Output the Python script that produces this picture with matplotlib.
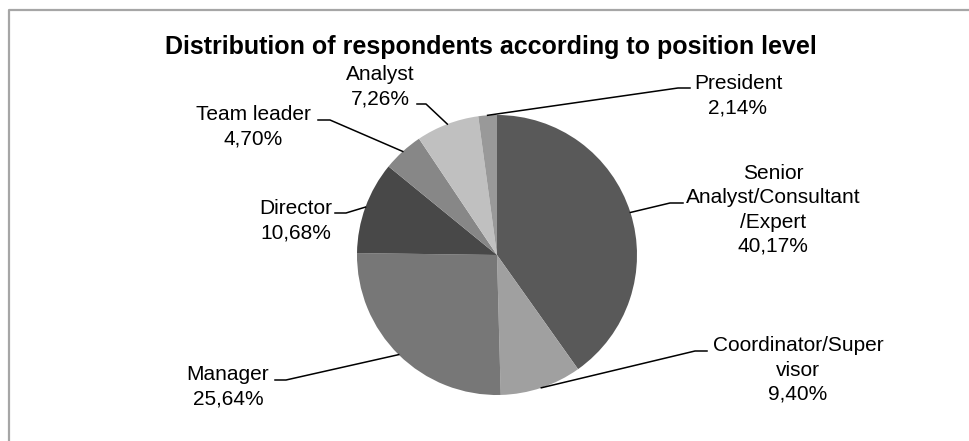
import numpy as np
import matplotlib.pyplot as plt

plt.rcParams['font.family'] = ['Liberation Sans', 'DejaVu Sans']

# Dane
categories = ['Senior\nAnalyst/Consultant\n/Expert', 'Coordinator/Super\nvisor', 'Manager',
              'Director', 'Team leader', 'Analyst', 'President']
shares = [40.17, 9.40, 25.64, 10.68, 4.70, 7.26, 2.14]
colors = ['#595959', '#a0a0a0', '#777777', '#484848', '#878787', '#c0c0c0', '#999999']

# Pozycje etykiet w pikselach (od gory): srodek tekstu, punkt zaczepienia, kolanko linii
label_pos = [(773, 210), (798, 370), (228, 387), (296, 221), (253, 127), (380, 87), (738, 96)]
attach = [(683, 203), (707, 351), (275, 380), (335, 213), (318, 120), (417, 104), (690, 88)]
elbow = [(670, 203), (695, 351), (286, 380), (346, 213), (330, 120), (426, 104), (678, 88)]

W, H = 970, 441
fig = plt.figure(figsize=(W / 100, H / 100), dpi=100)
ax = fig.add_axes([0, 0, 1, 1])

cx, cy, r = 497, H - 255, 140
wedges, _ = ax.pie(shares, colors=colors, startangle=90, counterclock=False,
                   center=(cx, cy), radius=r, frame=True,
                   wedgeprops=dict(linewidth=0))
ax.set_xlim(0, W)
ax.set_ylim(0, H)
ax.set_aspect('equal')
ax.axis('off')

# Etykiete + linije
for w, cat, val, (tx, ty), (ax_, ay), (ex, ey) in zip(wedges, categories, shares,
                                                     label_pos, attach, elbow):
    theta = np.deg2rad((w.theta1 + w.theta2) / 2)
    px, py = cx + r * np.cos(theta), cy + r * np.sin(theta)
    ax.plot([px, ex, ax_], [py, H - ey, H - ay], color='black', lw=1.1)
    txt = f"{cat}\n{val:.2f}%".replace('.', ',')
    ax.text(tx, H - ty, txt, ha='center', va='center', fontsize=15,
            linespacing=1.35, multialignment='center')

# Okvir
ax.plot([9.5, 9.5, W + 5], [-5, H - 9.5, H - 9.5], color='#a6a6a6', lw=1.6, clip_on=False)

ax.text(491, H - 47, 'Distribution of respondents according to position level',
        ha='center', va='center', fontsize=18, fontweight='bold')

fig.savefig('out.png', dpi=100)
